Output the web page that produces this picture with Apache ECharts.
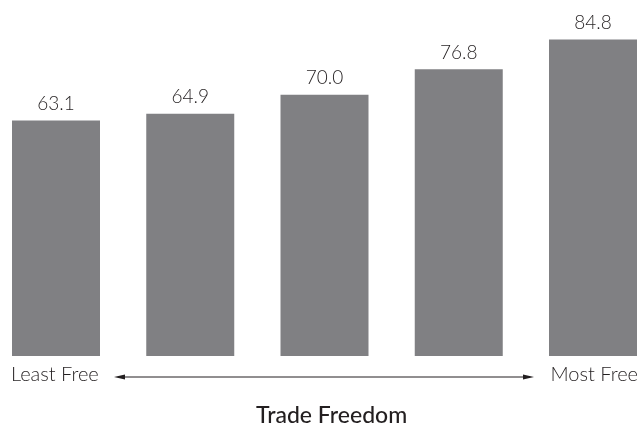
<!doctype html>
<html>
<head>
<meta charset="utf-8">
<title>Trade Freedom</title>
<style>
  html, body { margin: 0; padding: 0; background: #fff; }
  #chart { width: 641px; height: 426px; }
</style>
</head>
<body>
<div id="chart"></div>
<script src="https://cdn.jsdelivr.net/npm/echarts@6/dist/echarts.min.js"></script>
<script>
// data
var categories = ['1', '2', '3', '4', '5'];
var values = [63.1, 64.9, 70.0, 76.8, 84.8];
var axisTitle = 'Trade Freedom';
var endLabels = ['Least Free', 'Most Free'];

var chart = echarts.init(document.getElementById('chart'));
var font = 'Lato, "Open Sans", sans-serif';

var option = {
    animation: false,
    title: {
        text: axisTitle,
        left: 251,
        top: 399,
        textStyle: { fontFamily: font, fontSize: 23, fontWeight: 500, color: '#231f20' }
    },
    // category centres sit on the grid edges (boundaryGap false)
    grid: { left: 56, right: 48, top: 20, bottom: 70 },
    xAxis: {
        type: 'category',
        data: categories,
        boundaryGap: false,
        axisLine: { show: false },
        axisTick: { show: false },
        axisLabel: { show: false }
    },
    yAxis: {
        type: 'value',
        min: 0,
        max: 90,
        show: false,
        splitLine: { show: false }
    },
    series: [{
        type: 'bar',
        data: values,
        barWidth: 88,
        clip: false,
        itemStyle: { color: '#808083' },
        label: {
            show: true,
            position: 'top',
            distance: 7,
            formatter: function (p) { return p.value.toFixed(1); },
            fontFamily: font,
            fontWeight: 300,
            fontSize: 19,
            color: '#231f20'
        }
    }],
    graphic: [
        {
            type: 'text', left: 11, top: 365,
            style: { text: endLabels[0], font: '300 20px ' + font, fill: '#231f20' }
        },
        {
            type: 'text', right: 3, top: 365,
            style: { text: endLabels[1], font: '300 20px ' + font, fill: '#231f20' }
        },
        {
            type: 'line',
            shape: { x1: 118, y1: 377, x2: 530, y2: 377 },
            style: { stroke: '#231f20', lineWidth: 1 }
        },
        {
            type: 'polygon',
            shape: { points: [[114, 377], [125, 374.5], [125, 379.5]] },
            style: { fill: '#231f20' }
        },
        {
            type: 'polygon',
            shape: { points: [[534, 377], [523, 374.5], [523, 379.5]] },
            style: { fill: '#231f20' }
        }
    ]
};
chart.setOption(option);
</script>
</body>
</html>
